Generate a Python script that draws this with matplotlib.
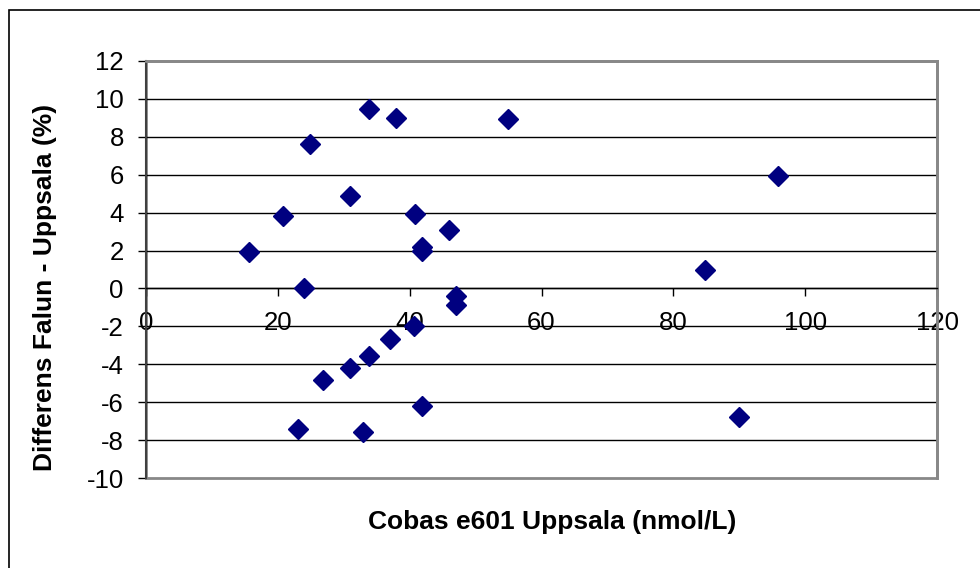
import matplotlib.pyplot as plt
from matplotlib.patches import Rectangle

# data
cobas_uppsala = [33.8, 37.9, 54.9, 24.9, 30.9, 20.8, 40.8, 45.9, 41.8, 41.9,
                 15.6, 23.9, 47.0, 47.0, 40.7, 37.0, 33.9, 30.9, 26.9, 41.8,
                 23.1, 32.9, 95.9, 84.8, 89.9]
diff_pct = [9.45, 8.98, 8.92, 7.6, 4.86, 3.84, 3.91, 3.08, 2.2, 1.99,
            1.94, 0.04, -0.40, -0.88, -1.97, -2.69, -3.57, -4.18, -4.83, -6.21,
            -7.42, -7.56, 5.93, 0.97, -6.80]
x_ticks = [0, 20, 40, 60, 80, 100, 120]
y_ticks = [-10, -8, -6, -4, -2, 0, 2, 4, 6, 8, 10, 12]

plt.rcParams["font.family"] = ["Liberation Sans", "DejaVu Sans"]
plt.rcParams["axes.unicode_minus"] = False

W, H = 980, 568
fig = plt.figure(figsize=(W / 100, H / 100), dpi=100)
ax = fig.add_axes([146 / W, 1 - 478 / H, (937 - 146) / W, (478 - 61) / H])

# horizontal gridlines
for y in y_ticks[1:-1]:
    ax.axhline(y, color="black", lw=1.0, zorder=1)

ax.plot(cobas_uppsala, diff_pct, linestyle="none", marker="D",
        markersize=10, color="#000080", zorder=3, clip_on=False)

ax.set_xlim(0, 120)
ax.set_ylim(-10, 12)
ax.set_xticks(x_ticks)
ax.set_yticks(y_ticks)

# x axis crosses at y = 0
ax.spines["bottom"].set_position(("data", 0))
ax.spines["bottom"].set_color("black")
ax.spines["bottom"].set_linewidth(1.0)
ax.spines["left"].set_color("#404040")
ax.spines["left"].set_linewidth(1.5)
for s in ("top", "right"):
    ax.spines[s].set_color("#888888")
    ax.spines[s].set_linewidth(2.0)

# gray bottom border of the plot area
ax.add_patch(Rectangle((0, 0), 1, 1, transform=ax.transAxes, fill=False,
                       edgecolor="#888888", lw=2.0, zorder=0, clip_on=False))

ax.tick_params(axis="x", direction="out", length=6, width=1, pad=10,
               labelsize=18.5, colors="black")
ax.tick_params(axis="y", direction="out", length=6, width=1, pad=10,
               labelsize=18.5, colors="black")

fig.text(552 / W, 1 - 522 / H, "Cobas e601 Uppsala (nmol/L)", ha="center",
         va="center", fontsize=19, fontweight="bold")
fig.text(45 / W, 1 - 287 / H, "Differens Falun - Uppsala (%)", ha="center",
         va="center", rotation=90, fontsize=19, fontweight="bold")

# outer chart border (right and bottom edges lie outside the image)
top = 1 - 9.5 / H
fig.add_artist(Rectangle((8.5 / W, -0.2), 1.2, top + 0.2,
                         transform=fig.transFigure, fill=False,
                         edgecolor="black", lw=1.2))

fig.savefig("out.png", dpi=100)
